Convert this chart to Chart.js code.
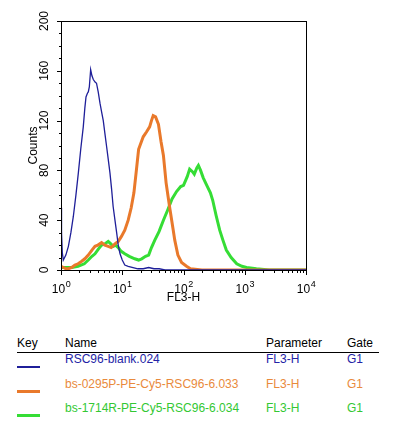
<!DOCTYPE html>
<html>
<head>
<meta charset="utf-8">
<script src="https://cdn.jsdelivr.net/npm/chart.js@4.4.1/dist/chart.umd.min.js"></script>
<style>
  body { margin: 0; background: #fff; font-family: 'Liberation Sans', Arial, Helvetica, sans-serif; }
  #wrap { position: relative; width: 397px; height: 430px; overflow: hidden; }
  #histChart { position: absolute; left: 0; top: 0; }
  .cell { position: absolute; font-size: 12px; line-height: 14px; white-space: nowrap; }
  .keyLine { position: absolute; left: 17px; width: 23px; }
</style>
</head>
<body>
<div id="wrap">
  <canvas id="histChart" width="397" height="310"></canvas>

  <div class="cell" style="left:17px; top:336px; color:#000;">Key</div>
  <div class="cell" style="left:65px; top:336px; color:#000;">Name</div>
  <div class="cell" style="left:266px; top:336px; color:#000;">Parameter</div>
  <div class="cell" style="left:347px; top:336px; color:#000;">Gate</div>
  <div style="position:absolute; left:17px; top:352px; width:362px; height:1px; background:#000;"></div>

  <div class="keyLine" style="top:366px; height:2px; background:#1f1f99;"></div>
  <div class="cell" style="left:65px; top:352px; color:#2323a6;">RSC96-blank.024</div>
  <div class="cell" style="left:266px; top:352px; color:#2323a6;">FL3-H</div>
  <div class="cell" style="left:347px; top:352px; color:#2323a6;">G1</div>

  <div class="keyLine" style="top:390px; height:3px; background:#e9792b;"></div>
  <div class="cell" style="left:65px; top:377px; color:#e98a3c;">bs-0295P-PE-Cy5-RSC96-6.033</div>
  <div class="cell" style="left:266px; top:377px; color:#e98a3c;">FL3-H</div>
  <div class="cell" style="left:347px; top:377px; color:#e98a3c;">G1</div>

  <div class="keyLine" style="top:414px; height:3px; background:#35dd35;"></div>
  <div class="cell" style="left:65px; top:401px; color:#33c833;">bs-1714R-PE-Cy5-RSC96-6.034</div>
  <div class="cell" style="left:266px; top:401px; color:#33c833;">FL3-H</div>
  <div class="cell" style="left:347px; top:401px; color:#33c833;">G1</div>
</div>

<script>
// histogram data (FL3-H channel value, counts)
const blueX = [1.0, 1.02, 1.05, 1.09, 1.2, 1.32, 1.45, 1.59, 1.75, 1.92, 2.1, 2.31, 2.45, 2.56, 2.7, 2.79, 2.9, 3.05, 3.2, 3.37, 3.6, 3.8, 4.05, 4.33, 4.6, 4.9, 5.2, 5.56, 5.9, 6.3, 6.7, 7.1, 7.6, 8.1, 8.6, 9.2, 10, 11, 12.5, 15, 18, 22, 27, 33, 40, 50, 70, 100, 1000, 10000];
const blueY = [50, 30, 14, 8, 12, 19, 30, 43, 60, 78, 97, 115, 130, 139, 142, 143, 147, 161, 156, 153, 151, 150, 143, 134, 127, 120, 110, 99, 89, 78, 65, 51, 40, 30, 20, 13, 8, 4, 3, 2, 1, 1, 2, 1, 1, 0, 0, 0, 0, 0];

const orangeX = [1.0, 1.1, 1.2, 1.32, 1.5, 1.69, 1.9, 2.18, 2.45, 2.79, 3.2, 3.59, 4.0, 4.6, 5.2, 5.9, 6.6, 7.6, 8.6, 9.7, 11, 12.5, 14, 15.5, 17, 18.5, 22, 25, 28, 30, 32, 35, 39, 43, 47, 52, 56, 60, 68, 72, 81, 93, 112, 130, 200, 1000, 10000];
const orangeY = [3, 2, 1, 1, 2, 4, 5, 7, 9, 12, 16, 19, 20, 22, 20, 19, 18, 21, 23, 27, 32, 40, 50, 62, 80, 97, 107, 111, 115, 120, 124, 123, 117, 103, 92, 70, 59, 49, 32, 24, 12, 6, 3, 1, 0, 0, 0];

const greenX = [1.0, 1.2, 1.5, 1.9, 2.4, 2.79, 3.2, 3.59, 4.1, 4.6, 5.2, 5.9, 6.5, 7.1, 7.8, 8.6, 9.6, 11, 13, 16, 18.5, 20.8, 24, 27, 30, 34, 40, 47, 55, 65, 77, 90, 100, 115, 126, 140, 150, 165, 175, 190, 210, 240, 275, 300, 340, 390, 440, 500, 600, 740, 900, 1070, 1550, 2500, 10000];
const greenY = [2, 2, 2, 3, 5, 8, 11, 13, 17, 20, 21, 23, 21, 19, 20, 18, 15, 13, 11, 9, 8, 9, 11, 12, 18, 24, 31, 40, 48, 57, 63, 67, 68, 75, 81, 79, 77, 82, 84, 80, 74, 68, 62, 56, 44, 32, 24, 16, 10, 5, 3, 2, 1, 0, 0];

// axis labels: decades shown as 10 with a raised exponent
const xLabelValues = [1, 10, 100, 1000, 10000];
const xLabelExponents = ['0', '1', '2', '3', '4'];
const yLabelValues = [0, 40, 80, 120, 160, 200];

const seriesNames = ['RSC96-blank.024', 'bs-0295P-PE-Cy5-RSC96-6.033', 'bs-1714R-PE-Cy5-RSC96-6.034'];
const seriesColors = ['#1f1f99', '#e9792b', '#35dd35'];

function toPoints(xs, ys) {
  return xs.map((x, i) => ({ x: x, y: ys[i] }));
}

// minor tick marks: 1..9 inside each decade, every 10 counts on y
const xTickValues = [];
for (let d = 1; d < 10000; d *= 10) {
  for (let k = 1; k < 10; k++) xTickValues.push(d * k);
}
xTickValues.push(10000);
const yTickValues = [];
for (let v = 0; v <= 200; v += 10) yTickValues.push(v);

const fontFamily = "'Liberation Sans', Arial, sans-serif";

const frameAndTicks = {
  id: 'frameAndTicks',
  afterDraw(chart) {
    const { ctx, chartArea } = chart;
    const xs = chart.scales.x;
    const ys = chart.scales.y;
    ctx.save();
    ctx.strokeStyle = '#000';
    ctx.lineWidth = 1;
    ctx.strokeRect(Math.round(chartArea.left) + 0.5, Math.round(chartArea.top) + 0.5,
      Math.round(chartArea.right - chartArea.left), Math.round(chartArea.bottom - chartArea.top));
    ctx.beginPath();
    xTickValues.forEach((v) => {
      const px = Math.round(xs.getPixelForValue(v)) + 0.5;
      const len = xLabelValues.includes(v) ? 5 : 3;
      ctx.moveTo(px, chartArea.bottom);
      ctx.lineTo(px, chartArea.bottom + len);
    });
    yTickValues.forEach((v) => {
      const py = Math.round(ys.getPixelForValue(v)) + 0.5;
      const len = v % 40 == 0 ? 4 : 2;
      ctx.moveTo(chartArea.left, py);
      ctx.lineTo(chartArea.left - len, py);
    });
    ctx.stroke();

    // x decade labels
    ctx.fillStyle = '#000';
    ctx.textBaseline = 'alphabetic';
    ctx.textAlign = 'left';
    xLabelValues.forEach((v, i) => {
      const px = xs.getPixelForValue(v);
      ctx.font = '12px ' + fontFamily;
      const baseW = ctx.measureText('10').width;
      ctx.font = '9px ' + fontFamily;
      const expW = ctx.measureText(xLabelExponents[i]).width;
      const left = px - (baseW + expW) / 2;
      ctx.font = '12px ' + fontFamily;
      ctx.fillText('10', left, chartArea.bottom + 23);
      ctx.font = '9px ' + fontFamily;
      ctx.fillText(xLabelExponents[i], left + baseW + 0.5, chartArea.bottom + 17);
    });
    ctx.restore();
  },
};

const tickFont = { family: fontFamily, size: 11 };

new Chart(document.getElementById('histChart').getContext('2d'), {
  type: 'line',
  data: {
    datasets: [
      { label: seriesNames[0], data: toPoints(blueX, blueY), borderColor: seriesColors[0], borderWidth: 1.3 },
      { label: seriesNames[1], data: toPoints(orangeX, orangeY), borderColor: seriesColors[1], borderWidth: 3 },
      { label: seriesNames[2], data: toPoints(greenX, greenY), borderColor: seriesColors[2], borderWidth: 3 },
    ],
  },
  options: {
    responsive: false,
    animation: false,
    layout: { padding: { left: 0, top: 21, right: 91, bottom: 0 } },
    elements: { point: { radius: 0 }, line: { tension: 0, fill: false } },
    plugins: { legend: { display: false }, tooltip: { enabled: false } },
    scales: {
      x: {
        type: 'logarithmic',
        min: 1,
        max: 10000,
        afterBuildTicks: (scale) => {
          scale.ticks = xLabelValues.map((v) => ({ value: v }));
        },
        afterFit: (scale) => {
          scale.height = 40;
        },
        grid: { display: false, drawTicks: false, tickLength: 0 },
        border: { display: false },
        ticks: { display: false },
        title: { display: true, text: 'FL3-H', color: '#000', font: { family: fontFamily, size: 12 }, padding: { top: 0, bottom: 5 } },
      },
      y: {
        min: 0,
        max: 200,
        afterBuildTicks: (scale) => {
          scale.ticks = yLabelValues.map((v) => ({ value: v }));
        },
        afterFit: (scale) => {
          scale.width = 61;
        },
        grid: { display: false, drawTicks: false, tickLength: 0 },
        border: { display: false },
        ticks: {
          autoSkip: false,
          minRotation: 90,
          maxRotation: 90,
          crossAlign: 'center',
          padding: 6,
          color: '#000',
          font: { family: fontFamily, size: 12 },
        },
        title: { display: true, text: 'Counts', color: '#000', font: { family: fontFamily, size: 12 }, padding: { top: 26, bottom: 0 } },
      },
    },
  },
  plugins: [frameAndTicks],
});
</script>
</body>
</html>
